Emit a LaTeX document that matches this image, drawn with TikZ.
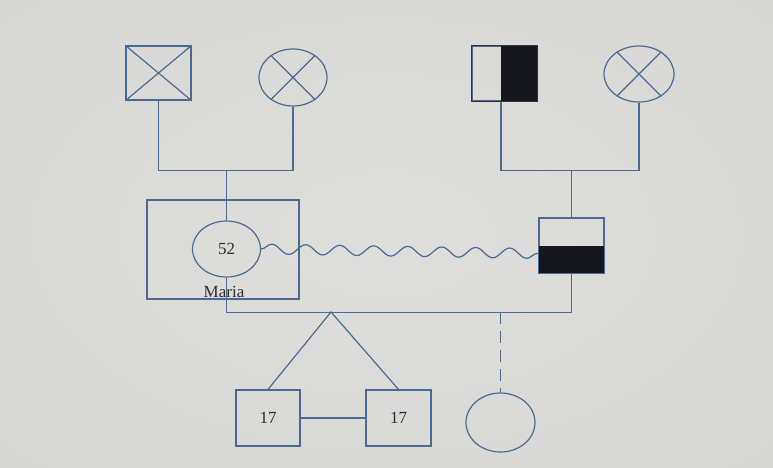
\documentclass[tikz,border=0pt]{standalone}
\usepackage{xcolor}
\usepackage{fontspec}
\setmainfont{Liberation Serif}
\usepackage{tikz}
\usetikzlibrary{shapes.geometric, decorations.pathmorphing, calc}

\definecolor{genblue}{RGB}{74,106,146}
\definecolor{genfill}{RGB}{22,22,30}
\definecolor{gentext}{RGB}{45,45,50}
\pgfdeclareradialshading{photobg}{\pgfpoint{0bp}{0bp}}{%
  rgb(0bp)=(0.87,0.87,0.86);
  rgb(40bp)=(0.84,0.84,0.83);
  rgb(60bp)=(0.70,0.69,0.68);
  rgb(71bp)=(0.52,0.51,0.50)}

\begin{document}
\begin{tikzpicture}[
  x=1pt, y=-1pt,
  font=\fontsize{17}{20}\selectfont,
  malebox/.style={
    rectangle,
    draw=genblue,
    line width=1.2pt,
    text=gentext,
    inner sep=0pt
  },
  femaleoval/.style={
    ellipse,
    draw=genblue,
    line width=1.2pt,
    text=gentext,
    inner sep=0pt
  },
  genline/.style={
    draw=genblue,
    line width=1.2pt
  },
  darkpart/.style={
    fill=genfill
  }
]

% photo background
\shade[shading=photobg] (0,0) rectangle (773,468);
\useasboundingbox (0,0) rectangle (773,468);

% grandparents, left side
\node[malebox, minimum width=65pt, minimum height=54pt] (lgfather) at (158.5,73) {};
\node[femaleoval, minimum width=68pt, minimum height=57pt] (lgmother) at (293,77.5) {};
\draw[genline] (lgfather.north west) -- (lgfather.south east);
\draw[genline] (lgfather.north east) -- (lgfather.south west);
\draw[genline] (lgmother.135) -- (lgmother.315);
\draw[genline] (lgmother.45) -- (lgmother.225);

% grandparents, right side
\node[malebox, minimum width=65pt, minimum height=55pt] (rgfather) at (504.5,73.5) {};
\fill[darkpart] (501,46) rectangle (rgfather.south east);
\draw[genline, draw=black!80] (rgfather.north west) rectangle (rgfather.south east);
\node[femaleoval, minimum width=70pt, minimum height=56pt] (rgmother) at (639,74) {};
\draw[genline] (rgmother.135) -- (rgmother.315);
\draw[genline] (rgmother.45) -- (rgmother.225);

% Maria and partner
\node[malebox, minimum width=152pt, minimum height=99pt] (mariabox) at (223,249.5) {};
\node[femaleoval, minimum width=68pt, minimum height=56pt] (maria) at (226.5,249) {52};
\node[text=gentext] (marialabel) at (224,292) {Maria};
\node[malebox, minimum width=65pt, minimum height=55pt] (partner) at (571.5,245.5) {};
\fill[darkpart] (partner.west) rectangle (partner.south east);
\draw[genline] (partner.north west) rectangle (partner.south east);

\coordinate (lparents) at (226.5,170);
\coordinate (rparents) at (571.5,170);
\draw[genline] (lgfather.south) -- ++(0,70) -| (lgmother.south);
\draw[genline] (rgfather.south) ++(-3.5,0) -- ++(0,69) -| (rgmother.south);
\draw[genline] (lparents) -- (maria.north);
\draw[genline] (rparents) -- (partner.north);

% hostile relation
\draw[genline, decorate, decoration={snake, amplitude=5pt, segment length=34pt}]
  (maria.east) -- ([yshift=-8pt]partner.west);

% children
\node[malebox, minimum width=64pt, minimum height=56pt] (twinone) at (268,418) {17};
\node[malebox, minimum width=65pt, minimum height=56pt] (twintwo) at (398.5,418) {17};
\node[femaleoval, minimum width=69pt, minimum height=59pt] (daughter) at (500.5,422.5) {};

\draw[genline] (maria.south) -- ++(0,35) -| (partner.south);
\coordinate (twinapex) at (331,312);
\coordinate (daughterdrop) at (500.5,312);
\draw[genline] (twinone.north) -- (twinapex) -- (twintwo.north);
\draw[genline] (twinone) -- (twintwo);
\draw[genline, dash pattern=on 12pt off 7pt] (daughterdrop) -- (daughter.north);

\end{tikzpicture}
\end{document}
